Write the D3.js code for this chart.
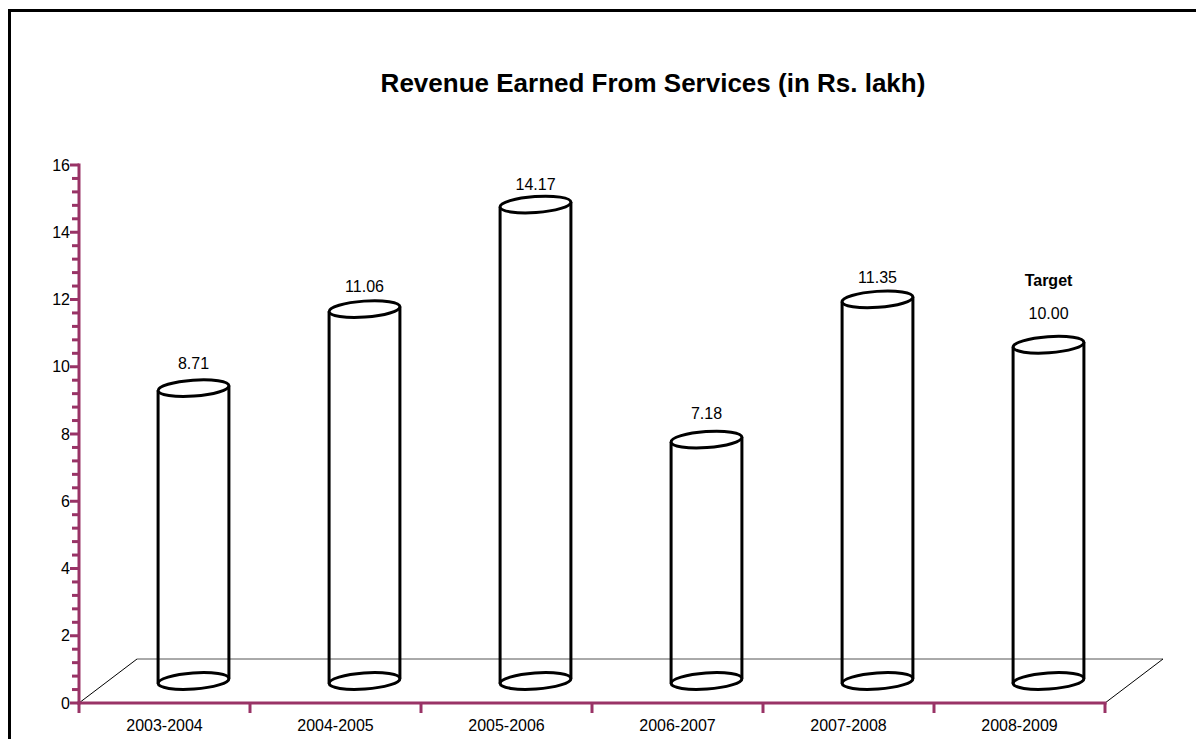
<!DOCTYPE html>
<html>
<head>
<meta charset="utf-8">
<script src="https://cdn.jsdelivr.net/npm/d3@7/dist/d3.min.js"></script>
<style>
  html, body { margin: 0; padding: 0; background: #fff; }
  svg { display: block; }
  text { font-family: "Liberation Sans", Arial, Helvetica, sans-serif; fill: #000; }
</style>
</head>
<body>
<svg id="chart" width="1196" height="739"></svg>
<script>
// Revenue per financial year (Rs. lakh); the last year is the target figure
const categories = ["2003-2004", "2004-2005", "2005-2006", "2006-2007", "2007-2008", "2008-2009"];
const revenue = [8.71, 11.06, 14.17, 7.18, 11.35, 10.00];
const labelHeads = ["", "", "", "", "", "Target"];
const yTickValues = [0, 2, 4, 6, 8, 10, 12, 14, 16];
const yMinorStep = 0.4;
const titleText = "Revenue Earned From Services (in Rs. lakh)";

(function draw() {
  const svg = d3.select("#chart");
  const axisColor = "#993366";
  const fontSize = "16px";

  // plot geometry (front plane of the 3D box plus its depth offset)
  const plotLeft = 79, plotRight = 1105, plotBottom = 703, plotTop = 165;
  const depthX = 58, depthY = -44;

  const x = d3.scaleBand().domain(categories).range([plotLeft, plotRight]).padding(0);
  const y = d3.scaleLinear().domain([0, 16]).range([plotBottom, plotTop]);
  // data labels sit on a slightly flatter projection than the columns
  const yLabel = d3.scaleLinear().domain([0, 16]).range([655, 130.2]);

  // outer frame
  svg.append("rect")
    .attr("x", 9.5).attr("y", 10.5)
    .attr("width", 1200).attr("height", 740)
    .attr("fill", "none").attr("stroke", "#000").attr("stroke-width", 3);

  // title
  svg.append("text")
    .attr("x", 653).attr("y", 92)
    .attr("text-anchor", "middle")
    .style("font-size", "26px").style("font-weight", "bold")
    .text(titleText);

  // floor of the 3D plot
  const floor = svg.append("g").attr("fill", "none").attr("stroke", "#000").attr("stroke-width", 1);
  floor.append("line")
    .attr("x1", plotLeft).attr("y1", plotBottom)
    .attr("x2", plotLeft + depthX).attr("y2", plotBottom + depthY);
  floor.append("line")
    .attr("x1", plotLeft + depthX).attr("y1", plotBottom + depthY)
    .attr("x2", plotRight + depthX).attr("y2", plotBottom + depthY)
    .attr("stroke", "#555");
  floor.append("line")
    .attr("x1", plotRight).attr("y1", plotBottom)
    .attr("x2", plotRight + depthX).attr("y2", plotBottom + depthY);

  // cylinders
  const rx = 35.5, ry = 8, tilt = -4;
  const t = tilt * Math.PI / 180;
  const endDx = rx * Math.cos(t), endDy = rx * Math.sin(t);
  const cyl = svg.append("g").selectAll("g").data(revenue).join("g")
    .attr("transform", (d, i) => `translate(${x(categories[i]) + x.bandwidth() / 2 + depthX / 2},0)`);

  const baseY = y(0) + depthY / 2;
  cyl.append("ellipse")
    .attr("cx", 0).attr("cy", 0).attr("rx", rx).attr("ry", ry)
    .attr("transform", `translate(0,${baseY}) rotate(${tilt})`)
    .attr("fill", "#fff").attr("stroke", "#000").attr("stroke-width", 3);
  cyl.append("line")
    .attr("x1", -endDx).attr("x2", -endDx)
    .attr("y1", d => y(d) + depthY / 2 - endDy)
    .attr("y2", baseY - endDy)
    .attr("stroke", "#000").attr("stroke-width", 3);
  cyl.append("line")
    .attr("x1", endDx).attr("x2", endDx)
    .attr("y1", d => y(d) + depthY / 2 + endDy)
    .attr("y2", baseY + endDy)
    .attr("stroke", "#000").attr("stroke-width", 3);
  cyl.append("ellipse")
    .attr("cx", 0).attr("cy", 0).attr("rx", rx).attr("ry", ry)
    .attr("transform", d => `translate(0,${y(d) + depthY / 2}) rotate(${tilt})`)
    .attr("fill", "#fff").attr("stroke", "#000").attr("stroke-width", 3);

  // data labels
  cyl.append("text")
    .attr("text-anchor", "middle")
    .attr("y", (d, i) => yLabel(d) - (labelHeads[i] ? 8 : 0))
    .style("font-size", fontSize)
    .text(d => d3.format(".2f")(d));
  cyl.each(function (d, i) {
    if (!labelHeads[i]) return;
    d3.select(this).append("text")
      .attr("text-anchor", "middle")
      .attr("y", yLabel(d) - 41)
      .style("font-size", fontSize).style("font-weight", "bold")
      .text(labelHeads[i]);
  });

  // value axis
  const yAxis = svg.append("g");
  yAxis.append("line")
    .attr("x1", plotLeft).attr("x2", plotLeft)
    .attr("y1", y(16) - 1.5).attr("y2", y(0) + 1.5)
    .attr("stroke", axisColor).attr("stroke-width", 3);
  const minorTicks = d3.range(0, 16 + 1e-9, yMinorStep);
  yAxis.selectAll("line.minor").data(minorTicks).join("line")
    .attr("class", "minor")
    .attr("x1", d => yTickValues.some(v => Math.abs(v - d) < 1e-6) ? plotLeft - 9 : plotLeft - 7)
    .attr("x2", plotLeft)
    .attr("y1", d => y(d)).attr("y2", d => y(d))
    .attr("stroke", axisColor).attr("stroke-width", 3);
  yAxis.selectAll("text").data(yTickValues).join("text")
    .attr("x", plotLeft - 9).attr("y", d => y(d))
    .attr("dy", "0.35em")
    .attr("text-anchor", "end")
    .style("font-size", fontSize)
    .text(d => d);

  // category axis along the front edge of the floor
  const xAxis = svg.append("g");
  xAxis.append("line")
    .attr("x1", plotLeft - 1.5).attr("x2", plotRight + 1.5)
    .attr("y1", plotBottom).attr("y2", plotBottom)
    .attr("stroke", axisColor).attr("stroke-width", 3);
  const boundaries = categories.map(c => x(c)).concat([plotRight]);
  xAxis.selectAll("line.tick").data(boundaries).join("line")
    .attr("class", "tick")
    .attr("x1", d => d).attr("x2", d => d)
    .attr("y1", plotBottom).attr("y2", plotBottom + 10)
    .attr("stroke", axisColor).attr("stroke-width", 3);
  xAxis.selectAll("text").data(categories).join("text")
    .attr("x", d => x(d) + x.bandwidth() / 2)
    .attr("y", 731)
    .attr("text-anchor", "middle")
    .style("font-size", fontSize)
    .text(d => d);
})();
</script>
</body>
</html>
